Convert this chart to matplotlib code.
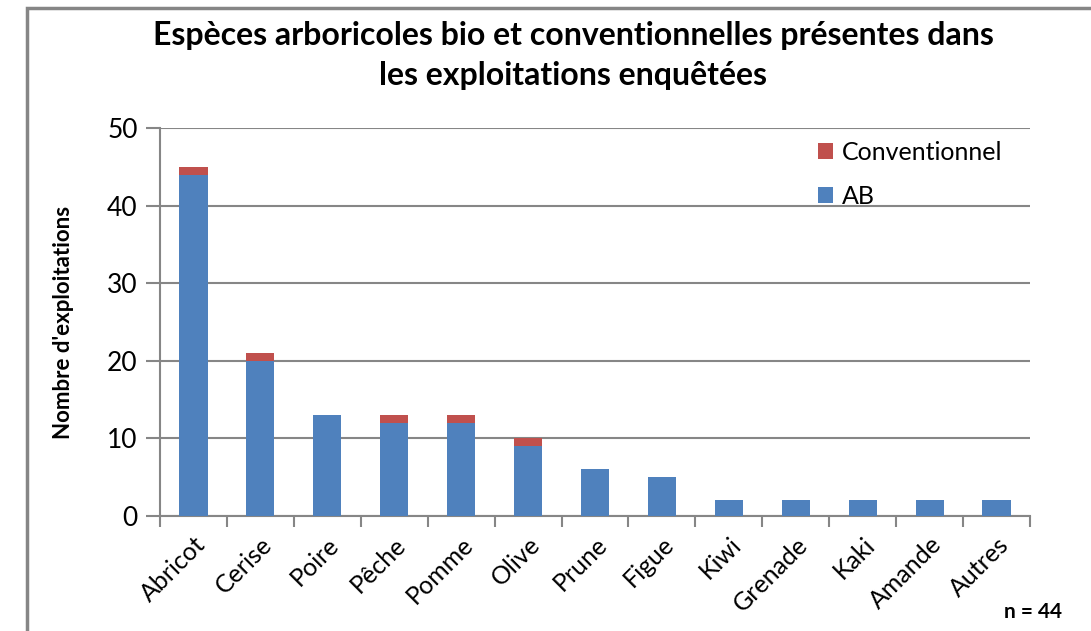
import matplotlib
matplotlib.use("Agg")
import matplotlib.pyplot as plt
import matplotlib.patches as mpatches
import numpy as np

plt.rcParams['font.family'] = ['Lato', 'DejaVu Sans']

# especes et nombre d'exploitations
especes = ["Abricot", "Cerise", "Poire", "Pêche", "Pomme", "Olive", "Prune",
           "Figue", "Kiwi", "Grenade", "Kaki", "Amande", "Autres"]
ab = [44, 20, 13, 12, 12, 9, 6, 5, 2, 2, 2, 2, 2]
conventionnel = [1, 1, 0, 1, 1, 1, 0, 0, 0, 0, 0, 0, 0]

bleu = "#4F81BD"
rouge = "#C0504D"
gris = "#868686"

fig = plt.figure(figsize=(10.91, 6.31), dpi=100)
ax = fig.add_axes([160/1091, 1 - 516/631, 870/1091, 388/631])

x = np.arange(len(especes))
ax.bar(x, ab, width=0.42, color=bleu, label="AB", zorder=3)
ax.bar(x, conventionnel, width=0.42, bottom=ab, color=rouge, label="Conventionnel", zorder=3)

ax.set_xlim(-0.5, len(especes) - 0.5)
ax.set_ylim(0, 50)
ax.set_yticks(range(0, 51, 10))
ax.yaxis.grid(True, color=gris, lw=1.5, zorder=0)
ax.tick_params(axis='y', length=10, width=1.5, color=gris, labelsize=19, pad=6)

# ticks x aux limites des categories
ax.set_xticks(np.arange(-0.5, len(especes), 1))
ax.set_xticklabels([])
ax.set_xticks(x, minor=True)
ax.set_xticklabels(especes, minor=True, rotation=45, ha='right', rotation_mode='anchor', fontsize=18)
ax.tick_params(axis='x', which='major', length=8, width=1.5, color=gris)
ax.tick_params(axis='x', which='minor', length=0, pad=12)

for s in ['top', 'right']:
    ax.spines[s].set_visible(False)
for s in ['left', 'bottom']:
    ax.spines[s].set_color(gris)
    ax.spines[s].set_linewidth(1.5)

ax.set_ylabel("Nombre d'exploitations", fontsize=16, fontweight='bold')
ax.yaxis.set_label_coords(-(160 - 74) / 870, 0.5)

h, l = ax.get_legend_handles_labels()
ax.legend(h[::-1], l[::-1], loc='upper left', bbox_to_anchor=(0.731, 1.025), frameon=False,
          fontsize=18, handlelength=0.6, handleheight=0.6, labelspacing=0.85, handletextpad=0.35)

fig.text(573/1091, 1 - 35/631, "Espèces arboricoles bio et conventionnelles présentes dans",
         ha='center', va='center', fontsize=23, fontweight='bold')
fig.text(573/1091, 1 - 75/631, "les exploitations enquêtées",
         ha='center', va='center', fontsize=23, fontweight='bold')
fig.text(1062/1091, 1 - 612/631, "n = 44", ha='right', va='center', fontsize=15, fontweight='bold')

# cadre
fig.patches.append(mpatches.Rectangle((27/1091, -0.1), 1.2, 1 - 8/631 + 0.1, transform=fig.transFigure,
                                      fill=False, edgecolor=gris, lw=2.5))

fig.savefig("out.png", dpi=100)
